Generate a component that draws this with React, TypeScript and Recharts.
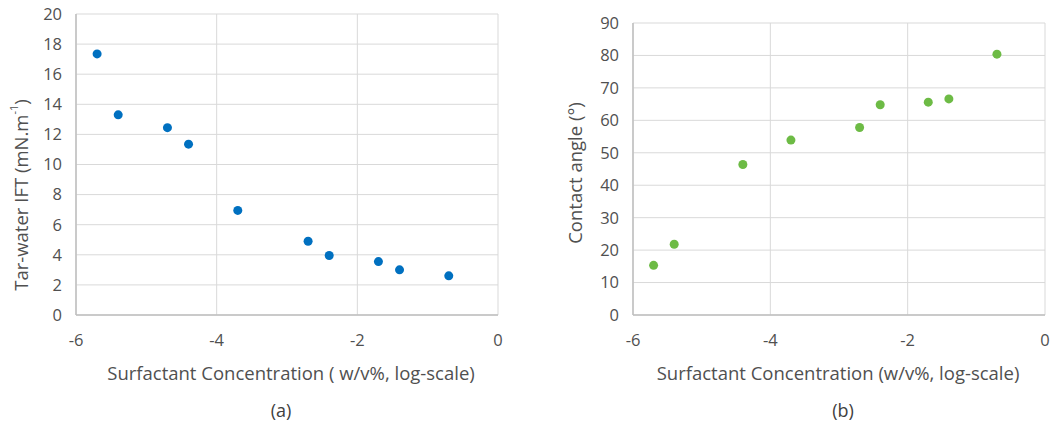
import { CartesianGrid, Label, Scatter, ScatterChart, XAxis, YAxis } from "recharts";

// log10 of surfactant concentration (w/v%)
const concA = [-5.7, -5.4, -4.7, -4.4, -3.7, -2.7, -2.4, -1.7, -1.4, -0.7];
const iftA = [17.35, 13.3, 12.45, 11.35, 6.95, 4.9, 3.95, 3.55, 3.0, 2.6];

const concB = [-5.7, -5.4, -4.4, -3.7, -2.7, -2.4, -1.7, -1.4, -0.7];
const angleB = [15.3, 21.8, 46.4, 53.9, 57.8, 64.8, 65.6, 66.6, 80.4];

const xTicks = [-6, -4, -2, 0];
const iftTicks = [0, 2, 4, 6, 8, 10, 12, 14, 16, 18, 20];
const angleTicks = [0, 10, 20, 30, 40, 50, 60, 70, 80, 90];

const FONT = "'Open Sans', sans-serif";
const TEXT = "#505050";
const GRID = "#d9d9d9";
const AXIS = "#bfbfbf";

type PanelProps = {
  width: number;
  top: number;
  right: number;
  yWidth: number;
  xs: number[];
  ys: number[];
  yDomain: [number, number];
  yTicks: number[];
  color: string;
  yTitle: React.ReactNode;
  yTitleX: number;
  yTitleY: number;
  xTitle: string;
  xTitleX: number;
  caption: string;
  captionX: number;
};

function Panel(p: PanelProps) {
  const data = p.xs.map((x, i) => ({ x, y: p.ys[i] }));
  return (
    <ScatterChart
      width={p.width}
      height={427}
      margin={{ top: p.top, right: p.right, bottom: 82, left: 0 }}
    >
      <CartesianGrid stroke={GRID} />
      <XAxis
        type="number"
        dataKey="x"
        domain={[-6, 0]}
        ticks={xTicks}
        height={30}
        axisLine={{ stroke: AXIS, strokeWidth: 1.5 }}
        tickLine={false}
        tickSize={0}
        tickMargin={19}
        tick={{ fill: TEXT, fontSize: 16.5, fontFamily: FONT }}
      >
        <Label
          content={() => (
            <text
              x={p.xTitleX}
              y={372}
              textAnchor="middle"
              dominantBaseline="central"
              fill={TEXT}
              fontSize={18.5}
              fontFamily={FONT}
            >
              {p.xTitle}
            </text>
          )}
        />
        <Label
          content={() => (
            <text
              x={p.captionX}
              y={410}
              textAnchor="middle"
              dominantBaseline="central"
              fill="#404040"
              fontSize={18}
              fontFamily={FONT}
            >
              {p.caption}
            </text>
          )}
        />
      </XAxis>
      <YAxis
        type="number"
        dataKey="y"
        domain={p.yDomain}
        ticks={p.yTicks}
        width={p.yWidth}
        axisLine={{ stroke: AXIS, strokeWidth: 1.5 }}
        tickLine={false}
        tickSize={0}
        tickMargin={14}
        tick={{ fill: TEXT, fontSize: 16.5, fontFamily: FONT }}
      >
        <Label
          content={() => (
            <text
              x={p.yTitleX}
              y={p.yTitleY}
              transform={`rotate(-90 ${p.yTitleX} ${p.yTitleY})`}
              textAnchor="middle"
              dominantBaseline="central"
              fill={TEXT}
              fontSize={18.5}
              fontFamily={FONT}
            >
              {p.yTitle}
            </text>
          )}
        />
      </YAxis>
      <Scatter
        data={data}
        isAnimationActive={false}
        shape={(s: any) => <circle cx={s.cx} cy={s.cy} r={4.5} fill={p.color} />}
      />
    </ScatterChart>
  );
}

export default function App() {
  return (
    <div
      style={{
        position: "absolute",
        left: 0,
        top: 0,
        width: 1051,
        height: 427,
        background: "#fff",
      }}
    >
      <div style={{ position: "absolute", left: 0, top: 0 }}>
        <Panel
          width={530}
          top={14}
          right={32}
          yWidth={76}
          xs={concA}
          ys={iftA}
          yDomain={[0, 20]}
          yTicks={iftTicks}
          color="#0070c0"
          yTitle={
            <>
              Tar-water IFT (mN.m
              <tspan dy={-7} fontSize={11}>
                -1
              </tspan>
              <tspan dy={7}>)</tspan>
            </>
          }
          yTitleX={20}
          yTitleY={195}
          xTitle="Surfactant Concentration ( w/v%, log-scale)"
          xTitleX={291}
          caption="(a)"
          captionX={281}
        />
      </div>
      <div style={{ position: "absolute", left: 530, top: 0 }}>
        <Panel
          width={521}
          top={23}
          right={6}
          yWidth={103}
          xs={concB}
          ys={angleB}
          yDomain={[0, 90]}
          yTicks={angleTicks}
          color="#6dbb45"
          yTitle="Contact angle (°)"
          yTitleX={44}
          yTitleY={173}
          xTitle="Surfactant Concentration (w/v%, log-scale)"
          xTitleX={308}
          caption="(b)"
          captionX={313}
        />
      </div>
    </div>
  );
}
